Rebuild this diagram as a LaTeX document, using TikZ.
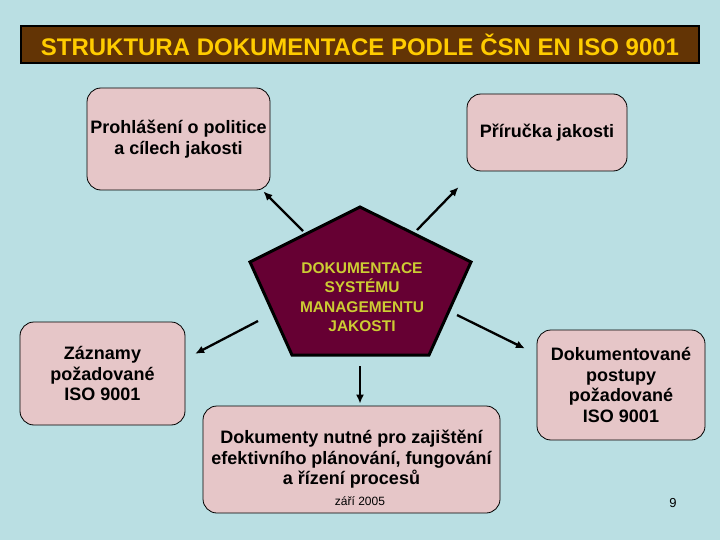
\documentclass[tikz,border=0pt]{standalone}
\usepackage{fontspec}
\setmainfont{Liberation Sans}
\usepackage{tikz}
\usetikzlibrary{arrows,arrows.meta,shapes,positioning}
\usepackage{xcolor}
\definecolor{slidebg}{RGB}{186,223,227}
\definecolor{titlebrown}{RGB}{99,52,5}
\definecolor{titleyellow}{RGB}{255,204,0}
\definecolor{boxpink}{RGB}{230,198,200}
\definecolor{pentmaroon}{RGB}{102,0,51}
\definecolor{pentyellow}{RGB}{204,204,51}
\tikzstyle{docbox} = [draw=black, line width=0.8pt, fill=boxpink, rounded corners=14pt, align=center, font=\bfseries\fontsize{18}{20.5}\selectfont]
\tikzstyle{arrow} = [line width=2.3pt, -{Latex[length=9pt,width=8pt]}]

\begin{document}
\begin{tikzpicture}[x=1pt, y=-1pt]
% Background
\fill[slidebg] (0,0) rectangle (720,540);

% Title bar
\node[draw=black, line width=2pt, fill=titlebrown, minimum width=678, minimum height=37,
  text=titleyellow, font=\bfseries\fontsize{24}{28}\selectfont] (title) at (360,45)
  {STRUKTURA DOKUMENTACE PODLE ČSN EN ISO 9001};

% Documents
\node[docbox, minimum width=183, minimum height=102] (polit) at (178.5,139) {Prohlášení o politice\\a cílech jakosti};
\node[docbox, minimum width=160, minimum height=77] (prir) at (547,132.5) {Příručka jakosti};
\node[docbox, minimum width=165, minimum height=103] (zazn) at (102.5,373.5) {Záznamy\\požadované\\ISO 9001};
\node[docbox, minimum width=168, minimum height=110] (postup) at (621,385) {Dokumentované\\postupy\\požadované\\ISO 9001};
\node[docbox, minimum width=297, minimum height=107] (nutne) at (351.5,459.5) {Dokumenty nutné pro zajištění\\efektivního plánování, fungování\\a řízení procesů};
\node[font=\fontsize{12}{14}\selectfont] (datum) at (360,501) {září 2005};
\node[font=\fontsize{13}{15}\selectfont] (strana) at (673,503) {9};

% Central pentagon
\coordinate (pt) at (360,207);
\coordinate (pr) at (471,262);
\coordinate (pbr) at (429,355);
\coordinate (pbl) at (292,355);
\coordinate (pl) at (250,262);
\draw[line width=3pt, fill=pentmaroon] (pt) -- (pr) -- (pbr) -- (pbl) -- (pl) -- cycle;
\node[text=pentyellow, align=center, font=\bfseries\fontsize{15.5}{19.5}\selectfont] (dms) at (362,297)
  {DOKUMENTACE\\SYSTÉMU\\MANAGEMENTU\\JAKOSTI};

% Arrows
\coordinate (a1) at (303,231);
\coordinate (a2) at (417,230);
\coordinate (a3) at (258,321);
\coordinate (a4) at (457,315);
\coordinate (a5) at (360,366);
\draw[arrow] (a1) -- ([xshift=-7pt,yshift=-1pt]polit.south east);
\draw[arrow, shorten >=22pt] (a2) -- (prir.208.5);
\draw[arrow, shorten >=11pt] (a3) -- (zazn.10);
\draw[arrow, shorten >=13pt] (a4) -- (postup.160.3);
\draw[arrow, shorten >=2pt] (a5) -- (a5 |- nutne.north);
\end{tikzpicture}
\end{document}
